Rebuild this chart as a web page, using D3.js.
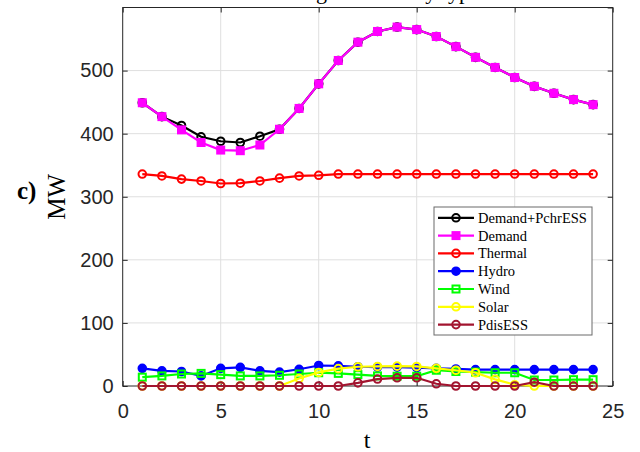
<!DOCTYPE html>
<html lang="en">
<head>
    <meta charset="UTF-8">
    <title>Power by type</title>
    <script src="https://d3js.org/d3.v7.min.js"></script>
    <style>
        body { margin: 0; background: #fff; }
        .tick text { font-family: "Liberation Sans", Arial, sans-serif; font-size: 20px; fill: #262626; }
        .serif { font-family: "Liberation Serif", "Times New Roman", serif; fill: #000; }
    </style>
</head>
<body>
    <svg width="640" height="452"></svg>

    <script>
        // hours
        const t = d3.range(1, 25);

        const demandPchr = [449, 427, 413, 395, 388, 386, 396, 407, 440, 479, 516, 545, 562, 569, 565, 554, 538, 521, 505, 489, 475, 464, 454, 446];
        const demand     = [449, 427, 406, 386, 374, 373, 382, 407, 440, 479, 516, 545, 562, 569, 565, 554, 538, 521, 505, 489, 475, 464, 454, 446];
        const thermal    = [336, 333, 328, 325, 321, 321.5, 325, 329.5, 333, 334, 336, 336, 336, 336, 336, 336, 336, 336, 336, 336, 336, 336, 336, 336];
        const hydro      = [28, 24, 23, 16, 28, 29.5, 24, 22, 26.5, 32.5, 32, 30.5, 30, 30, 29, 28, 27, 26, 26, 26, 26, 26, 26, 26];
        const wind       = [14, 16, 19, 20, 18, 16, 16, 17, 19, 21, 20, 18, 16, 15.5, 15.5, 25, 23, 22, 21, 21, 9.5, 9.5, 10, 10];
        const solar      = [0, 0, 0, 0, 0, 0, 0, 0, 12, 21.5, 27.5, 30.5, 31, 31.5, 31, 28, 25, 21, 10.5, 2, 0, 0, 0, 0];
        const pdisESS    = [0, 0, 0, 0, 0, 0, 0, 0, 0, 0, 0, 5, 11, 13, 13, 3.5, 0, 0, 0, 0, 6, 0, 0, 0];

        const xTicks = [0, 5, 10, 15, 20, 25];
        const yTicks = [0, 100, 200, 300, 400, 500, 600];

        const series = [
            {name: 'Demand+PchrESS', values: demandPchr, color: '#000000', marker: 'circle', filled: false},
            {name: 'Demand', values: demand, color: '#ff00ff', marker: 'square', filled: true},
            {name: 'Thermal', values: thermal, color: '#ff0000', marker: 'circle', filled: false},
            {name: 'Hydro', values: hydro, color: '#0000ff', marker: 'circle', filled: true},
            {name: 'Wind', values: wind, color: '#00ff00', marker: 'square', filled: false},
            {name: 'Solar', values: solar, color: '#ffff00', marker: 'circle', filled: false},
            {name: 'PdisESS', values: pdisESS, color: '#a2142f', marker: 'circle', filled: false}
        ];

        const pLeft = 122.7, pRight = 612.7, pTop = 7.5, pBottom = 386;
        const svg = d3.select('svg');

        const x = d3.scaleLinear().domain([0, 25]).range([pLeft, pRight]);
        const y = d3.scaleLinear().domain([0, 600]).range([pBottom, pTop]);

        // grid
        svg.append('g').selectAll('line').data(xTicks.slice(1, -1)).enter().append('line')
            .attr('x1', d => x(d)).attr('x2', d => x(d)).attr('y1', pTop).attr('y2', pBottom)
            .style('stroke', '#dfdfdf').style('stroke-width', 1);
        svg.append('g').selectAll('line').data(yTicks.slice(1, -1)).enter().append('line')
            .attr('y1', d => y(d)).attr('y2', d => y(d)).attr('x1', pLeft).attr('x2', pRight)
            .style('stroke', '#dfdfdf').style('stroke-width', 1);

        // axes with inward ticks
        const xAxis = svg.append('g').attr('transform', 'translate(0 ' + pBottom + ')')
            .call(d3.axisBottom(x).tickValues(xTicks).tickSizeInner(-5).tickSizeOuter(0).tickPadding(18));
        const yAxis = svg.append('g').attr('transform', 'translate(' + pLeft + ' 0)')
            .call(d3.axisLeft(y).tickValues(yTicks.slice(0, -1)).tickSizeInner(-5).tickSizeOuter(0).tickPadding(9));
        svg.append('g').attr('transform', 'translate(0 ' + pTop + ')')
            .call(d3.axisTop(x).tickValues(xTicks).tickSizeInner(-5).tickSizeOuter(0).tickFormat(''));
        svg.append('g').attr('transform', 'translate(' + pRight + ' 0)')
            .call(d3.axisRight(y).tickValues(yTicks).tickSizeInner(-5).tickSizeOuter(0).tickFormat(''));
        svg.selectAll('.domain').remove();
        svg.selectAll('.tick line').style('stroke', '#262626');
        xAxis.selectAll('text').attr('dy', '0.71em');

        svg.append('rect').attr('x', pLeft).attr('y', pTop).attr('width', pRight - pLeft).attr('height', pBottom - pTop)
            .style('fill', 'none').style('stroke', '#262626').style('stroke-width', 1);

        // lines and markers
        const line = d3.line().x((d, i) => x(t[i])).y(d => y(d));

        function marker(g, s, cx, cy) {
            if (s.marker === 'circle') {
                g.append('circle').attr('cx', cx).attr('cy', cy).attr('r', 3.8)
                    .style('fill', s.filled ? s.color : 'none').style('stroke', s.color).style('stroke-width', 2);
            } else {
                g.append('rect').attr('x', cx - 3.5).attr('y', cy - 3.5).attr('width', 7).attr('height', 7)
                    .style('fill', s.filled ? s.color : 'none').style('stroke', s.color).style('stroke-width', 2);
            }
        }

        series.forEach(s => {
            const g = svg.append('g');
            g.append('path').attr('d', line(s.values))
                .style('fill', 'none').style('stroke', s.color).style('stroke-width', 2.2);
            s.values.forEach((v, i) => marker(g, s, x(t[i]), y(v)));
        });

        // legend
        const lg = svg.append('g');
        lg.append('rect').attr('x', 434).attr('y', 207).attr('width', 158).attr('height', 128)
            .style('fill', '#fff').style('stroke', '#6a6a6a').style('stroke-width', 1);
        series.forEach((s, i) => {
            const ly = 217.8 + i * 17.8;
            lg.append('line').attr('x1', 438).attr('x2', 474).attr('y1', ly).attr('y2', ly)
                .style('stroke', s.color).style('stroke-width', 2.2);
            marker(lg, s, 456, ly);
            lg.append('text').attr('class', 'serif').attr('x', 478).attr('y', ly + 5)
                .style('font-size', '14.5px').text(s.name);
        });

        // labels
        svg.append('text').attr('class', 'serif').attr('x', 367).attr('y', -1)
            .attr('text-anchor', 'middle').style('font-size', '22px').text('Power generation by type');
        svg.append('text').attr('class', 'serif').attr('x', 367).attr('y', 448)
            .attr('text-anchor', 'middle').style('font-size', '24px').text('t');
        svg.append('text').attr('class', 'serif')
            .attr('transform', 'translate(65 ' + ((pTop + pBottom) / 2) + ') rotate(-90)')
            .attr('text-anchor', 'middle').style('font-size', '25px').text('MW');
        svg.append('text').attr('class', 'serif').attr('x', 17).attr('y', 199)
            .style('font-size', '25px').style('font-weight', 'bold').text('c)');
    </script>
</body>
</html>
